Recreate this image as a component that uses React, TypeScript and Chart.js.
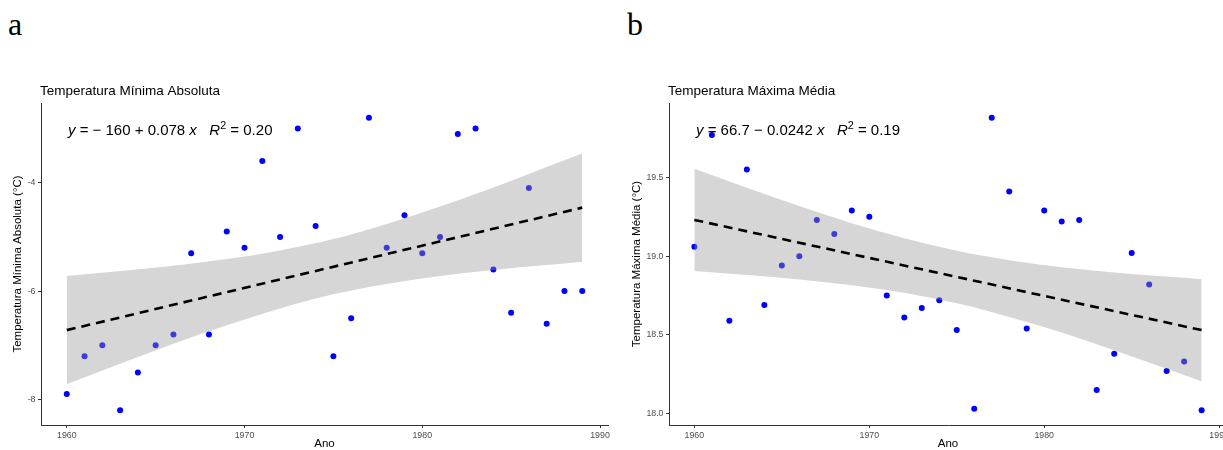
import React, { useEffect, useRef } from "react";
import { Chart, registerables } from "chart.js";

Chart.register(...registerables);

const FAMILY = '"Liberation Sans", Arial, sans-serif';

// Observations
const years = [
  1960, 1961, 1962, 1963, 1964, 1965, 1966, 1967, 1968, 1969,
  1970, 1971, 1972, 1973, 1974, 1975, 1976, 1977, 1978, 1979,
  1980, 1981, 1982, 1983, 1984, 1985, 1986, 1987, 1988, 1989,
];
const minAbsTemp = [
  -7.9, -7.2, -7.0, -8.2, -7.5, -7.0, -6.8, -5.3, -6.8, -4.9,
  -5.2, -3.6, -5.0, -3.0, -4.8, -7.2, -6.5, -2.8, -5.2, -4.6,
  -5.3, -5.0, -3.1, -3.0, -5.6, -6.4, -4.1, -6.6, -6.0, -6.0,
];
const maxMeanTemp = [
  19.06, 19.77, 18.59, 19.55, 18.69, 18.94, 19.0, 19.23, 19.14, 19.29,
  19.25, 18.75, 18.61, 18.67, 18.72, 18.53, 18.03, 19.88, 19.41, 18.54,
  19.29, 19.22, 19.23, 18.15, 18.38, 19.02, 18.82, 18.27, 18.33, 18.02,
];

// Regression lines (read at the ends of the data range)
const fitYears = [1960, 1989];
const minFit = [-6.72, -4.46];
const maxFit = [19.23, 18.53];

// Confidence bands (read at these years)
const bandYears = [1960, 1963, 1966, 1969, 1972, 1975, 1978, 1981, 1984, 1987, 1989];
const minUpper = [-5.72, -5.63, -5.53, -5.41, -5.25, -5.04, -4.76, -4.44, -4.09, -3.71, -3.46];
const minLower = [-7.72, -7.34, -6.97, -6.63, -6.32, -6.06, -5.87, -5.72, -5.61, -5.52, -5.46];
const maxUpper = [19.555, 19.434, 19.318, 19.209, 19.113, 19.034, 18.974, 18.93, 18.896, 18.87, 18.853];
const maxLower = [18.905, 18.88, 18.852, 18.815, 18.767, 18.7, 18.614, 18.514, 18.402, 18.284, 18.203];

// Axis ticks
const xTicks = [1960, 1970, 1980, 1990];
const minYTicks = [-8, -6, -4];
const maxYTicks = [18.0, 18.5, 19.0, 19.5];

type EqPart = [string, boolean, boolean?];

const minEq: EqPart[] = [
  ["y", true], [" = \u2212 160 + 0.078 ", false], ["x", true], ["   ", false],
  ["R", true], ["2", false, true], [" = 0.20", false],
];
const maxEq: EqPart[] = [
  ["y", true], [" = 66.7 \u2212 0.0242 ", false], ["x", true], ["   ", false],
  ["R", true], ["2", false, true], [" = 0.19", false],
];

const textPlugin = {
  id: "panelText",
  afterDraw(chart: any, _args: any, opts: any) {
    const { ctx, chartArea } = chart;
    ctx.save();
    ctx.fillStyle = "#000";
    ctx.textBaseline = "alphabetic";
    ctx.textAlign = "left";
    ctx.font = `13.5px ${FAMILY}`;
    ctx.fillText(opts.title, chartArea.left - 1, 95);
    let x = chartArea.left + opts.eqOffset;
    const y = 135;
    const size = 15;
    for (const part of opts.eq as EqPart[]) {
      const [txt, italic, sup] = part;
      const s = sup ? size * 0.72 : size;
      ctx.font = `${italic ? "italic " : ""}${s}px ${FAMILY}`;
      ctx.fillText(txt, x, sup ? y - size * 0.42 : y);
      x += ctx.measureText(txt).width;
    }
    ctx.restore();
  },
};

interface PanelParams {
  values: number[];
  fit: number[];
  upper: number[];
  lower: number[];
  yMin: number;
  yMax: number;
  yTicks: number[];
  yDecimals: number;
  yTitle: string;
  title: string;
  eq: EqPart[];
  yTitlePad: number;
  padRight: number;
}

function buildConfig(p: PanelParams): any {
  const axisColor = "#333333";
  const tickFont = { family: FAMILY, size: 8.8 };
  return {
    type: "scatter",
    data: {
      datasets: [
        {
          label: "fit",
          data: fitYears.map((x, i) => ({ x, y: p.fit[i] })),
          showLine: true,
          borderColor: "#000000",
          borderWidth: 2.6,
          borderDash: [9, 6],
          pointRadius: 0,
          fill: false,
          order: 0,
        },
        {
          label: "upper",
          data: bandYears.map((x, i) => ({ x, y: p.upper[i] })),
          showLine: true,
          borderColor: "rgba(0,0,0,0)",
          borderWidth: 0,
          pointRadius: 0,
          fill: "+1",
          backgroundColor: "rgba(153,153,153,0.4)",
          cubicInterpolationMode: "monotone",
          order: 1,
        },
        {
          label: "lower",
          data: bandYears.map((x, i) => ({ x, y: p.lower[i] })),
          showLine: true,
          borderColor: "rgba(0,0,0,0)",
          borderWidth: 0,
          pointRadius: 0,
          fill: false,
          cubicInterpolationMode: "monotone",
          order: 1,
        },
        {
          label: "points",
          data: years.map((x, i) => ({ x, y: p.values[i] })),
          showLine: false,
          pointRadius: 3,
          pointBackgroundColor: "#0000FF",
          pointBorderWidth: 0,
          pointBorderColor: "#0000FF",
          order: 2,
        },
      ],
    },
    options: {
      responsive: false,
      animation: false,
      devicePixelRatio: 1,
      events: [],
      layout: { padding: { top: 103, right: p.padRight, left: 0, bottom: 0 } },
      plugins: {
        legend: { display: false },
        tooltip: { enabled: false },
        panelText: { title: p.title, eq: p.eq, eqOffset: 27 },
      },
      scales: {
        x: {
          type: "linear",
          min: 1958.55,
          max: 1990.45,
          afterBuildTicks: (s: any) => {
            s.ticks = xTicks.map((v) => ({ value: v }));
          },
          afterFit: (s: any) => {
            s.height = 25;
          },
          ticks: {
            font: tickFont,
            color: "#4D4D4D",
            padding: 2,
            maxRotation: 0,
            autoSkip: false,
            callback: (v: any) => String(v),
          },
          grid: { drawOnChartArea: false, drawTicks: true, tickLength: 3, color: axisColor, lineWidth: 1 },
          border: { display: true, color: axisColor, width: 1 },
          title: {
            display: true,
            text: "Ano",
            color: "#000",
            font: { family: FAMILY, size: 11.5, lineHeight: 1 },
            padding: { top: 0, bottom: 0 },
          },
        },
        y: {
          type: "linear",
          min: p.yMin,
          max: p.yMax,
          afterBuildTicks: (s: any) => {
            s.ticks = p.yTicks.map((v) => ({ value: v }));
          },
          afterFit: (s: any) => {
            s.width = 41;
          },
          ticks: {
            font: tickFont,
            color: "#4D4D4D",
            padding: 2.5,
            autoSkip: false,
            callback: (v: any) => Number(v).toFixed(p.yDecimals),
          },
          grid: { drawOnChartArea: false, drawTicks: true, tickLength: 3, color: axisColor, lineWidth: 1 },
          border: { display: true, color: axisColor, width: 1 },
          title: {
            display: true,
            text: p.yTitle,
            color: "#000",
            font: { family: FAMILY, size: 11.5, lineHeight: 1.2 },
            padding: { top: p.yTitlePad, bottom: 0 },
          },
        },
      },
    },
    plugins: [textPlugin],
  };
}

export default function App() {
  const refA = useRef<HTMLCanvasElement | null>(null);
  const refB = useRef<HTMLCanvasElement | null>(null);

  useEffect(() => {
    const charts: Chart[] = [];
    if (refA.current) {
      charts.push(
        new Chart(
          refA.current,
          buildConfig({
            values: minAbsTemp,
            fit: minFit,
            upper: minUpper,
            lower: minLower,
            yMin: -8.47,
            yMax: -2.53,
            yTicks: minYTicks,
            yDecimals: 0,
            yTitle: "Temperatura Mínima Absoluta (°C)",
            title: "Temperatura Mínima Absoluta",
            eq: minEq,
            yTitlePad: 10.6,
            padRight: 4,
          })
        )
      );
    }
    if (refB.current) {
      charts.push(
        new Chart(
          refB.current,
          buildConfig({
            values: maxMeanTemp,
            fit: maxFit,
            upper: maxUpper,
            lower: maxLower,
            yMin: 17.927,
            yMax: 19.973,
            yTicks: maxYTicks,
            yDecimals: 1,
            yTitle: "Temperatura Máxima Média (°C)",
            title: "Temperatura Máxima Média",
            eq: maxEq,
            yTitlePad: 2,
            padRight: 5,
          })
        )
      );
    }
    return () => charts.forEach((c) => c.destroy());
  }, []);

  const labelStyle: React.CSSProperties = {
    position: "absolute",
    fontFamily: '"Liberation Serif", "Times New Roman", serif',
    fontSize: 32,
    lineHeight: "32px",
    color: "#000",
  };

  return (
    <div
      style={{
        position: "absolute",
        left: 0,
        top: 0,
        width: 1223,
        height: 450,
        overflow: "hidden",
        background: "#fff",
      }}
    >
      <div style={{ ...labelStyle, left: 8, top: 8 }}>a</div>
      <div style={{ ...labelStyle, left: 627, top: 8 }}>b</div>
      <canvas
        ref={refA}
        width={612}
        height={450}
        style={{ position: "absolute", left: 0, top: 0, width: 612, height: 450 }}
      />
      <canvas
        ref={refB}
        width={604}
        height={450}
        style={{ position: "absolute", left: 628, top: 0, width: 604, height: 450 }}
      />
    </div>
  );
}
